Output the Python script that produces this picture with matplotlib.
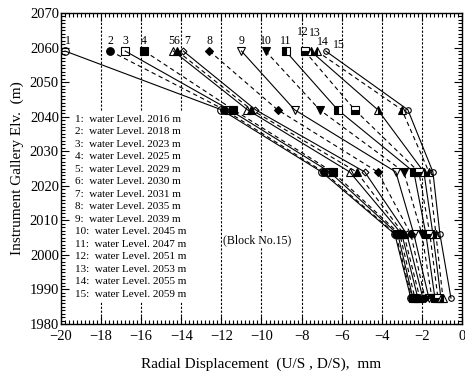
import matplotlib
matplotlib.use("Agg")
import matplotlib.pyplot as plt
from matplotlib.ticker import MultipleLocator

plt.rcParams["font.family"] = ["Liberation Serif", "DejaVu Serif"]

# gallery elevations of the five instruments (m)
ELEVATIONS = [2059.0, 2042.0, 2024.0, 2006.0, 1987.5]

# water level for each reading (m)
WATER_LEVELS = [2016, 2018, 2023, 2025, 2029, 2030, 2031, 2035, 2039,
                2045, 2047, 2051, 2053, 2055, 2059]

# radial displacement (mm) per reading, top -> bottom instrument
DISP_TOP = [-19.8, -17.55, -16.8, -15.85, -14.4, -14.2, -13.9, -12.6, -11.0,
            -9.8, -8.8, -7.85, -7.55, -7.25, -6.8]
DISP_2042 = [-12.0, -11.85, -11.6, -11.4, -10.7, -10.5, -10.3, -9.2, -8.35,
             -7.1, -6.2, -5.35, -4.2, -3.0, -2.7]
DISP_2024 = [-7.0, -6.9, -6.6, -6.45, -5.6, -5.25, -4.85, -4.2, -3.3,
             -2.9, -2.4, -2.15, -1.9, -1.65, -1.45]
DISP_2006 = [-3.35, -3.3, -3.2, -3.1, -3.0, -2.9, -2.75, -2.55, -2.4,
             -2.0, -1.8, -1.6, -1.45, -1.3, -1.1]
DISP_1988 = [-2.55, -2.5, -2.45, -2.35, -2.2, -2.1, -1.95, -1.85, -1.65,
             -1.5, -1.35, -1.2, -1.05, -0.95, -0.55]

# marker style per reading
MARKERS = [
    ("o", "none", "full", 5.5), ("o", "k", "full", 5.5),
    ("s", "none", "full", 5.5), ("s", "k", "full", 5.5),
    ("^", "none", "full", 5.5), ("^", "k", "full", 5.5),
    ("D", "none", "full", 3.5), ("D", "k", "full", 4.0),
    ("v", "none", "full", 5.5), ("v", "k", "full", 5.5),
    ("s", "k", "left", 5.5), ("s", "k", "bottom", 5.5),
    ("^", "k", "right", 5.5), ("^", "k", "left", 5.5),
    ("o", "none", "full", 4.0),
]
# number label offsets from the top markers (data units)
LABEL_DX = [0.15, 0.0, 0.0, 0.0, -0.1, -0.05, 0.2, 0.0, 0.0,
            0.0, 0.0, -0.1, 0.2, 0.3, 0.65]
LABEL_DY = [3.0, 3.0, 3.0, 3.0, 3.0, 3.0, 3.0, 3.0, 3.0,
            3.0, 3.0, 5.4, 5.2, 2.6, 1.7]


def main() -> None:
    fig = plt.figure(figsize=(4.65, 3.73), dpi=100)
    ax = fig.add_axes([0.1312, 0.1314, 0.8623, 0.8337])

    for gx in range(-18, 0, 2):
        ax.axvline(gx, color="k", lw=0.8, ls=(0, (2.0, 1.5)), zorder=1)

    columns = [DISP_TOP, DISP_2042, DISP_2024, DISP_2006, DISP_1988]
    for i in range(len(WATER_LEVELS)):
        xs = [col[i] for col in columns]
        marker, face, fill, size = MARKERS[i]
        ls = "-" if i % 2 == 0 else (0, (4, 3))
        ax.plot(xs, ELEVATIONS, color="k", lw=0.8, ls=ls, zorder=3)
        ax.plot(xs, ELEVATIONS, ls="none", marker=marker, ms=size,
                mfc=face, mec="k", mew=0.8, fillstyle=fill,
                markerfacecoloralt="white", zorder=4)
        ax.text(DISP_TOP[i] + LABEL_DX[i], ELEVATIONS[0] + LABEL_DY[i],
                str(i + 1), fontsize=8.5, ha="center", va="center", zorder=5)

    legend_lines = [f"{i + 1}:  water Level. {lvl} m"
                    for i, lvl in enumerate(WATER_LEVELS)]
    ax.text(-19.3, 2040.6, "\n".join(legend_lines), fontsize=8,
            ha="left", va="top", linespacing=1.5, zorder=6,
            bbox=dict(facecolor="white", edgecolor="none", pad=2.5))
    ax.text(-10.2, 2004.3, "(Block No.15)", fontsize=8.5, ha="center",
            va="center", zorder=6,
            bbox=dict(facecolor="white", edgecolor="none", pad=1.0))

    ax.set_xlim(-20, 0)
    ax.set_ylim(1980, 2070)
    ax.xaxis.set_major_locator(MultipleLocator(2))
    ax.xaxis.set_minor_locator(MultipleLocator(0.2))
    ax.yaxis.set_major_locator(MultipleLocator(10))
    ax.yaxis.set_minor_locator(MultipleLocator(1))
    ax.tick_params(which="both", direction="in", top=True, right=True,
                   labelsize=10.5, width=0.8)
    ax.tick_params(axis="x", which="both", pad=4.5)
    ax.tick_params(axis="y", which="both", pad=1.5)
    ax.tick_params(which="major", length=6)
    ax.tick_params(which="minor", length=3)
    for spine in ax.spines.values():
        spine.set_linewidth(1.0)

    ax.set_xlabel("Radial Displacement  (U/S , D/S),  mm", fontsize=11,
                  labelpad=10)
    ax.set_ylabel("Instrument Gallery Elv.  (m)", fontsize=11, labelpad=4)

    fig.savefig("out.png", dpi=100)
    plt.close(fig)


if __name__ == "__main__":
    main()
